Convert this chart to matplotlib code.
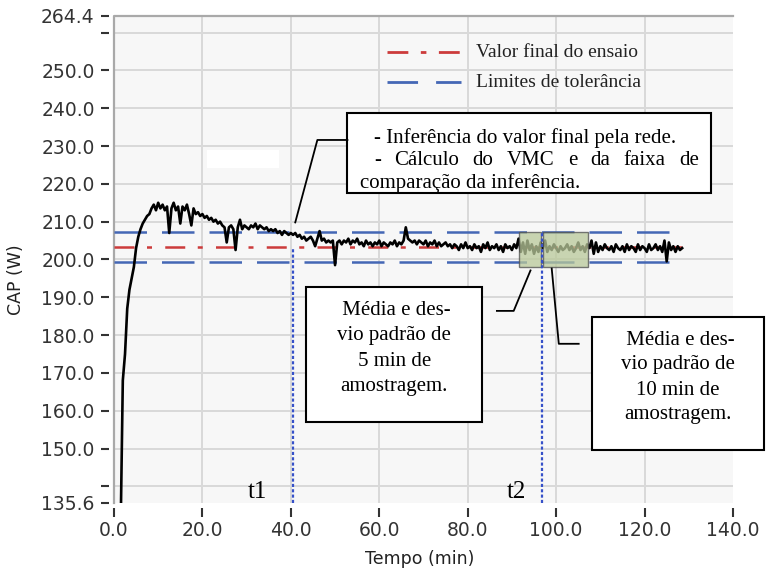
import numpy as np
import matplotlib
matplotlib.use("Agg")
import matplotlib.pyplot as plt
from matplotlib.patches import Rectangle

# CAP (W) sampled every 0.5 min starting at 1.5 min
cap_w = [
    128, 168, 175, 187, 192, 195, 198, 203, 206, 208,
    209.5, 210.5, 211.5, 212, 213.5, 214.5, 213, 215, 213.5, 214.5,
    213, 214, 207, 213.5, 215, 213, 214, 209.5, 214, 213,
    214.5, 212, 209, 213.5, 212, 212.5, 211.5, 212, 211, 211.5,
    210.5, 211, 210, 210.5, 209.5, 210, 209, 208.5, 204.5, 208.5,
    209, 208, 202.5, 208.5, 210.5, 208, 209, 208.5, 208, 209,
    208.5, 209.5, 208, 209, 208.5, 208, 208.5, 207.5, 208, 207.5,
    208, 207, 207.5, 206.5, 207.5, 207, 206.5, 207, 206.5, 207,
    206, 206.5, 205.5, 206, 205, 205.5, 206, 205, 203.5, 205.5,
    207.5, 205, 205.5, 204.5, 205, 204.5, 205, 198.5, 204.5, 205,
    204, 205, 204.5, 205.5, 204, 205, 204.5, 205.5, 204, 204.5,
    203.5, 205, 204, 204.5, 203.5, 204.5, 204, 205, 203.5, 204.5,
    204, 203.5, 204.5, 204, 205, 203.5, 204.5, 204, 205, 208.5,
    205.5, 205, 204.5, 205, 204, 205, 204.5, 204, 205, 203.5,
    204.5, 204, 205, 203.5, 204.5, 203.5, 204, 204.5, 203.5, 204,
    203, 204, 203.5, 202.5, 204, 203, 204.5, 203, 203.5, 202.5,
    204, 203, 203.5, 202, 204, 203, 204.5, 202.5, 203.5, 203,
    204, 202.5, 203.5, 202, 204, 203, 203.5, 202.5, 204, 203,
    205.5, 202, 204.5, 201.5, 205, 202.5, 204, 201.5, 203.5, 202,
    204.5, 203, 205, 202, 203.5, 202.5, 204, 203, 202, 203.5,
    202.5, 203, 204, 202.5, 203.5, 202, 203, 204.5, 202.5, 203.5,
    202, 204, 203, 205, 201.5, 204.5, 202, 203.5, 202.5, 204,
    203, 202.5, 203.5, 202, 204, 203, 202.5, 203.5, 202, 204,
    202.5, 203.5, 203, 202, 204, 202.5, 203.5, 203, 202, 204,
    202.5, 203, 204, 202.5, 203.5, 202, 205, 199.5, 204.5, 202.5,
    203.5, 202, 203.5, 202.5, 203,
]
t_start, t_step = 1.5, 0.5
tempo_min = t_start + t_step * np.arange(len(cap_w))

valor_final = 203.3
limite_inf = 199.3
limite_sup = 207.3
t1 = 40.4
t2 = 96.8
janela_5min = (91.5, 96.5)
janela_10min = (97.0, 107.3)
faixa_janela = (197.9, 207.2)

x_min, x_max = 0.0, 140.0
y_min, y_max = 135.6, 264.4
x_ticks = [0, 20, 40, 60, 80, 100, 120, 140]
x_tick_labels = ["0.0", "20.0", "40.0", "60.0", "80.0", "100.0", "120.0", "140.0"]
y_ticks = [135.6, 140, 150, 160, 170, 180, 190, 200, 210, 220, 230, 240, 250, 260, 264.4]
y_tick_labels = ["135.6", "", "150.0", "160.0", "170.0", "180.0", "190.0", "200.0",
                 "210.0", "220.0", "230.0", "240.0", "250.0", "", "264.4"]

legend_labels = ["Valor final do ensaio", "Limites de tolerância"]
texto_rede = [
    "- Inferência do valor final pela rede.",
    "- Cálculo do VMC e da faixa de",
    "comparação da inferência.",
]
texto_5min = [" Média e des-", "vio padrão de", "5 min de", "amostragem."]
texto_10min = [" Média e des-", "vio padrão de", "10 min de", "amostragem."]

RED = "#cc3b3b"
BLUE = "#4467b5"
DOT_BLUE = "#3651c9"
GRID = "#d9d9d9"
TICK = "#333333"
SERIF = "Liberation Serif"

fig = plt.figure(figsize=(7.69, 5.69), dpi=100)
ax = fig.add_axes([0.1482, 0.116, 0.805, 0.856])
ax.set_xlim(x_min, x_max)
ax.set_ylim(y_min, y_max)
ax.set_facecolor("#f7f7f7")
ax.set_axisbelow(True)

for side, sp in ax.spines.items():
    sp.set_visible(False)
ax.spines["left"].set_position(("outward", 3.6))
ax.spines["bottom"].set_position(("outward", 3.6))

ax.set_xticks(x_ticks, x_tick_labels)
ax.set_yticks(y_ticks, y_tick_labels)
ax.tick_params(axis="both", direction="out", color=TICK, width=1.5,
               labelcolor=TICK, labelsize=13.5)
ax.tick_params(axis="y", length=5.8, pad=4.5)
ax.tick_params(axis="x", length=6.5, pad=3.0)

ax.grid(True, color=GRID, lw=1.4)
for tick, v in zip(ax.xaxis.get_major_ticks(), x_ticks):
    if v in (x_min, x_max):
        tick.gridline.set_visible(False)
for tick, v in zip(ax.yaxis.get_major_ticks(), y_ticks):
    if v in (y_min, y_max):
        tick.gridline.set_visible(False)

# plot-area frame (left and top edges)
ax.plot([x_min, x_min, x_max], [y_min, y_max, y_max], color="#a9a9a9", lw=1.6,
        clip_on=False, zorder=2)

ax.set_xlabel("Tempo (min)", fontsize=12.5, color="#222222")
ax.set_ylabel("CAP (W)", fontsize=12.5, color="#222222")
ax.xaxis.set_label_coords(0.494, -0.097)
ax.yaxis.set_label_coords(-0.143, 0.458)

# blank patch in the upper part of the plot area
ax.add_patch(Rectangle((21.0, 224.2), 16.4, 4.8, fc="white", ec="none", zorder=1))

# reference and tolerance lines across the test duration
t_end = tempo_min[-1]
ax.hlines([limite_sup, limite_inf], 0, t_end, colors=BLUE, lw=1.8,
          linestyles=[(0, (13.0, 6.0))], zorder=3)
ax.hlines(valor_final, 0, t_end, colors=RED, lw=1.8,
          linestyles=[(0, (8.0, 5.0, 2.0, 5.3))], zorder=3)

# measured trace
ax.plot(tempo_min, cap_w, color="black", lw=1.9, zorder=4)

# sampling windows
for a, b in (janela_5min, janela_10min):
    ax.add_patch(Rectangle((a, faixa_janela[0]), b - a, faixa_janela[1] - faixa_janela[0],
                           fc="#b9c99a", ec="#4d4d4d", lw=1.0, alpha=0.75, zorder=5))

# decision instants
ax.vlines(t1, y_min, valor_final, colors=DOT_BLUE, lw=1.6,
          linestyles=[(0, (1.4, 1.0))], zorder=6)
ax.vlines(t2, y_min, limite_sup, colors=DOT_BLUE, lw=1.6,
          linestyles=[(0, (1.4, 1.0))], zorder=6)
ax.text(32.4, 138.6, "t1", fontsize=18, family=SERIF, ha="center", va="center", zorder=7)
ax.text(91.0, 138.6, "t2", fontsize=18, family=SERIF, ha="center", va="center", zorder=7)

# legend drawn with the same line styles
ax.plot([61.8, 78.5], [254.8, 254.8], color=RED, lw=2.0,
        linestyle=(0, (7.5, 4.5, 2.0, 4.5)), clip_on=False, zorder=3)
ax.plot([61.8, 78.5], [246.8, 246.8], color=BLUE, lw=2.0,
        linestyle=(0, (11.0, 6.5)), clip_on=False, zorder=3)
ax.text(81.8, 254.8, legend_labels[0], fontsize=14, family=SERIF, color="#222222",
        va="center", ha="left")
ax.text(81.8, 246.8, legend_labels[1], fontsize=14, family=SERIF, color="#222222",
        va="center", ha="left")

# annotation boxes
def box(x0, x1, y0, y1):
    ax.add_patch(Rectangle((x0, y0), x1 - x0, y1 - y0, fc="white", ec="black",
                           lw=1.5, zorder=8, clip_on=False))

def leader(xs, ys):
    ax.plot(xs, ys, color="black", lw=1.3, zorder=8, clip_on=False)

box(52.8, 135.1, 217.6, 238.6)
box(43.5, 83.2, 156.9, 192.6)
box(108.2, 147.0, 149.5, 184.8)

leader([41.0, 46.0, 52.8], [209.8, 231.6, 231.6])
leader([94.2, 90.4, 86.6], [197.1, 186.4, 186.4])
leader([99.0, 100.6, 105.1], [197.6, 177.7, 177.7])

fs_top = 15
txt_kw = dict(fontsize=fs_top, family=SERIF, va="center", zorder=9, clip_on=False)
ax.text(58.8, 232.2, texto_rede[0], ha="left", **txt_kw)
ax.text(55.6, 220.2, texto_rede[2], ha="left", **txt_kw)

# justified second line
fig.canvas.draw()
renderer = fig.canvas.get_renderer()
words = texto_rede[1].split(" ")
word_texts = [ax.text(0, 226.3, w, ha="left", **txt_kw) for w in words]
widths = [t.get_window_extent(renderer).width for t in word_texts]
x_left_px = ax.transData.transform((58.8, 0))[0]
x_right_px = ax.transData.transform((132.3, 0))[0]
gap = (x_right_px - x_left_px - sum(widths)) / (len(words) - 1)
xpx = x_left_px
inv = ax.transData.inverted()
for t, w in zip(word_texts, widths):
    t.set_x(inv.transform((xpx, 0))[0])
    xpx += w + gap

fs_box = 15
for lines, xc, ys in ((texto_5min, 63.4, [186.4, 179.8, 173.1, 166.5]),
                      (texto_10min, 127.6, [178.5, 172.1, 165.4, 159.0])):
    for s, y in zip(lines, ys):
        ax.text(xc, y, s, fontsize=fs_box, family=SERIF, ha="center", va="center",
                zorder=9, clip_on=False)

fig.savefig("out.png", dpi=100)
